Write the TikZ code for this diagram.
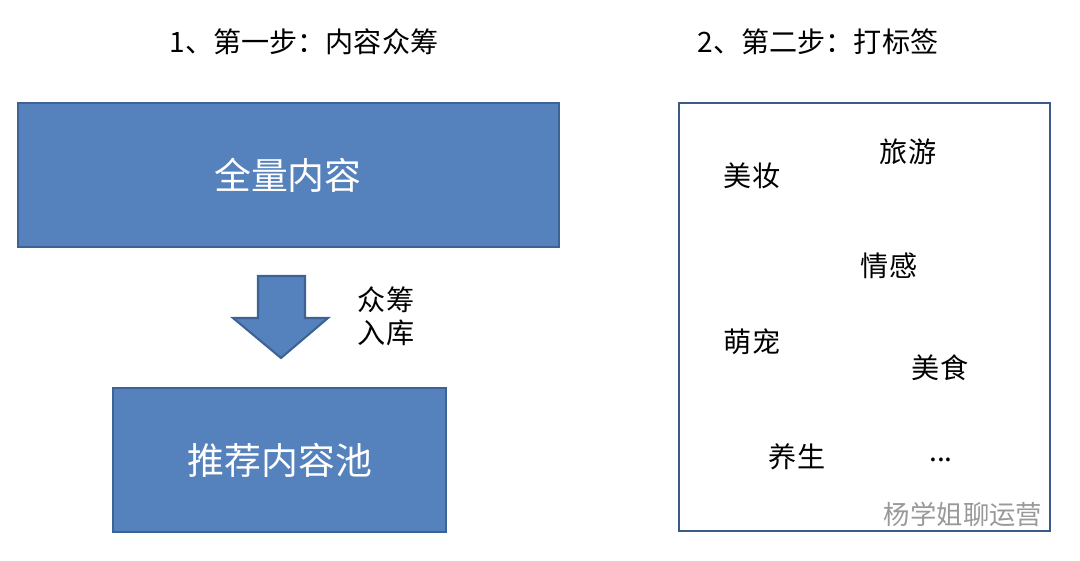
\documentclass[tikz,border=0pt]{standalone}
\usepackage{fontspec}
\setmainfont{Noto Sans CJK SC}
\definecolor{bfill}{HTML}{5581BC}
\definecolor{bline}{HTML}{3D6396}
\definecolor{rline}{HTML}{3B5A8A}
\begin{document}
\begin{tikzpicture}[x=0.02cm,y=-0.02cm,
  bbox/.style={draw=bline,line width=1.2pt,fill=bfill},
  btxt/.style={text=white,font=\fontsize{21}{24}\selectfont},
  ttl/.style={font=\fontsize{16}{19}\selectfont},
  lbl/.style={font=\fontsize{16}{19}\selectfont}]
\useasboundingbox (0,0) rectangle (1080,561);
\node[ttl] (t1) at (304,42) {1、第一步：内容众筹};
\node[ttl] (t2) at (818,42) {2、第二步：打标签};
\draw[bbox] (18,103) rectangle (559,247);
\node[btxt] (a) at (288,175) {全量内容};
\draw[bbox] (113,388) rectangle (446,532);
\node[btxt] (b) at (280,460) {推荐内容池};
\draw[bbox] (258,276) -- (305,276) -- (305,318) -- (328,318) -- (281,358) -- (233,318) -- (258,318) -- cycle;
\node[lbl,align=left] (c) at (386,316) {众筹\\入库};
\draw[draw=rline,line width=1.3pt] (679,103) rectangle (1050,531);
\node[lbl] (l1) at (752,176) {美妆};
\node[lbl] (l2) at (908,152) {旅游};
\node[lbl] (l3) at (889,266) {情感};
\node[lbl] (l4) at (752,342) {萌宠};
\node[lbl] (l5) at (940,368) {美食};
\node[lbl] (l6) at (797,457) {养生};
\node[lbl] (l7) at (941,460) {...};
\node[text=gray!80,font=\fontsize{15}{17}\selectfont] (w) at (963,514) {杨学姐聊运营};
\end{tikzpicture}
\end{document}
